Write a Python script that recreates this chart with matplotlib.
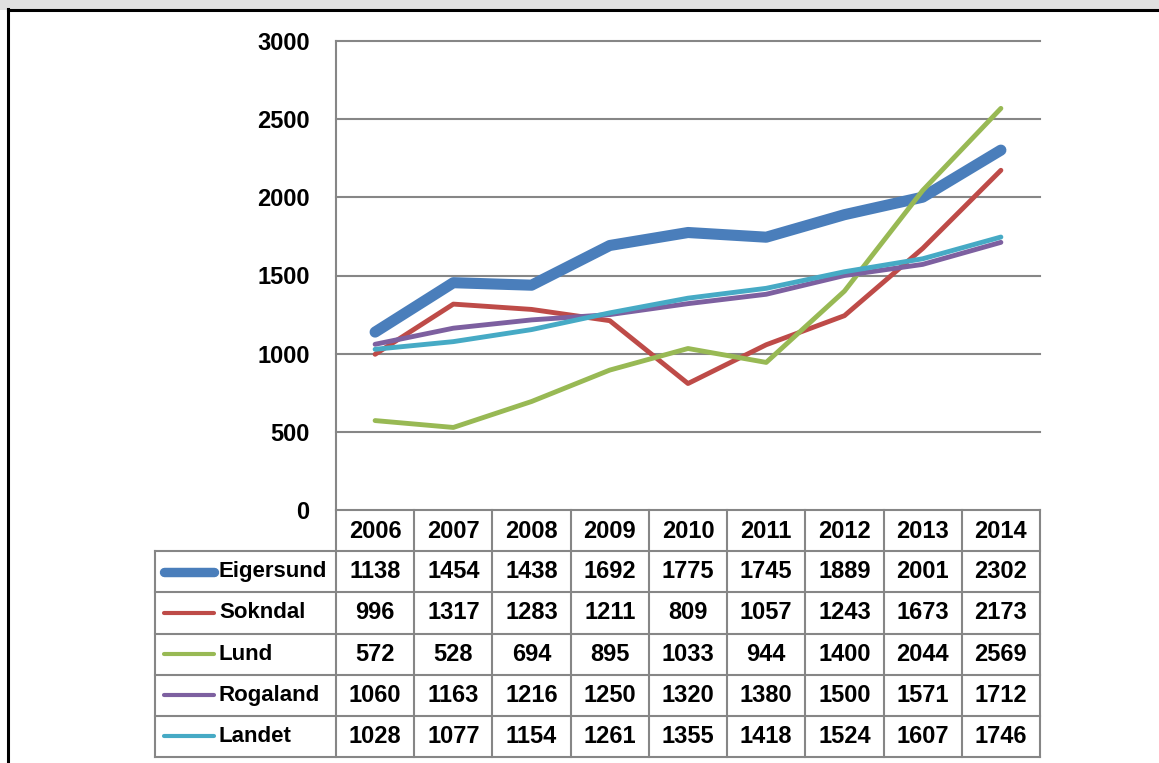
import matplotlib
matplotlib.use("Agg")
import matplotlib.pyplot as plt
from matplotlib.lines import Line2D
from matplotlib.patches import Rectangle

# Data (values also shown in the data table)
years = ["2006", "2007", "2008", "2009", "2010", "2011", "2012", "2013", "2014"]
series_names = ["Eigersund", "Sokndal", "Lund", "Rogaland", "Landet"]
eigersund = [1138, 1454, 1438, 1692, 1775, 1745, 1889, 2001, 2302]
sokndal = [996, 1317, 1283, 1211, 809, 1057, 1243, 1673, 2173]
lund = [572, 528, 694, 895, 1033, 944, 1400, 2044, 2569]
rogaland = [1060, 1163, 1216, 1250, 1320, 1380, 1500, 1571, 1712]
landet = [1028, 1077, 1154, 1261, 1355, 1418, 1524, 1607, 1746]
y_ticks = [0, 500, 1000, 1500, 2000, 2500, 3000]

series_values = [eigersund, sokndal, lund, rogaland, landet]
colors = ["#4A7EBB", "#BE4B48", "#98B954", "#7D60A0", "#46AAC5"]
widths = [8.0, 3.5, 3.5, 3.5, 3.5]

W, H = 1159, 763
FONT = ["Liberation Sans", "DejaVu Sans"]
FS = 17
GRID = "#868686"

fig = plt.figure(figsize=(W / 100, H / 100), dpi=100)


def fx(px):
    return px / W


def fy(py):
    return 1 - py / H


# page frame: grey band at top, black rules
fig.patches.append(Rectangle((0, fy(9.5)), 1, 9.5 / H, transform=fig.transFigure,
                             facecolor="#E0E0E0", edgecolor="none"))
fig.lines.append(Line2D([fx(8), 1], [fy(10), fy(10)], transform=fig.transFigure,
                        color="black", linewidth=2.2))
fig.lines.append(Line2D([fx(8), fx(8)], [0, fy(9)], transform=fig.transFigure,
                        color="black", linewidth=2.2))

# plot area
left, right, top, bottom = 336, 1040, 41, 510
ax = fig.add_axes([fx(left), fy(bottom), fx(right - left), (bottom - top) / H])
n = len(years)
ax.set_xlim(-0.5, n - 0.5)
ax.set_ylim(0, 3000)
for s in ["top", "right", "bottom"]:
    ax.spines[s].set_visible(False)
ax.spines["left"].set_color(GRID)
ax.spines["left"].set_linewidth(1.5)
ax.set_xticks([])
ax.set_yticks(y_ticks)
ax.set_yticklabels([str(t) for t in y_ticks], fontsize=FS, fontweight="bold",
                   family=FONT)
ax.tick_params(axis="y", length=0, pad=19)
for t in y_ticks:
    ax.axhline(t, color=GRID, linewidth=1.5, zorder=1, clip_on=False)

x = list(range(n))
for i, (name, vals) in enumerate(zip(series_names, series_values)):
    ax.plot(x, vals, color=colors[i], linewidth=widths[i], solid_capstyle="round",
            solid_joinstyle="round", zorder=2 + i, label=name)

# data table below the plot
tab_left, tab_bottom = 155, 757
col_w = (right - left) / n
legend_cols = (left - tab_left) / col_w
tax = fig.add_axes([fx(tab_left), fy(tab_bottom), fx(right - tab_left),
                    (tab_bottom - bottom) / H])
tax.set_xlim(-0.5 - legend_cols, n - 0.5)
tax.set_ylim(len(series_names) + 1, 0)
tax.axis("off")

x0 = -0.5 - legend_cols
lk = dict(color=GRID, linewidth=1.5, clip_on=False)
# horizontal rules
for r in range(1, len(series_names) + 2):
    tax.plot([x0, n - 0.5], [r, r], **lk)
# vertical rules
tax.plot([x0, x0], [1, len(series_names) + 1], **lk)
for c in range(n + 1):
    tax.plot([c - 0.5, c - 0.5], [0, len(series_names) + 1], **lk)

txt = dict(fontsize=FS, fontweight="bold", family=FONT, ha="center", va="center")
for c, yr in enumerate(years):
    tax.text(c, 0.52, yr, **txt)
for r, (name, vals) in enumerate(zip(series_names, series_values)):
    yy = r + 1.5
    for c, v in enumerate(vals):
        tax.text(c, yy, str(v), **txt)
    kx0 = x0 + 9 / col_w
    kx1 = x0 + 59 / col_w
    tax.plot([kx0, kx1], [yy, yy], color=colors[r], linewidth=widths[r] * 0.85,
             solid_capstyle="round", clip_on=False)
    tax.text(x0 + 64 / col_w, yy, name, fontsize=16, fontweight="bold",
             family=FONT, ha="left", va="center")

fig.savefig("out.png", dpi=100)
